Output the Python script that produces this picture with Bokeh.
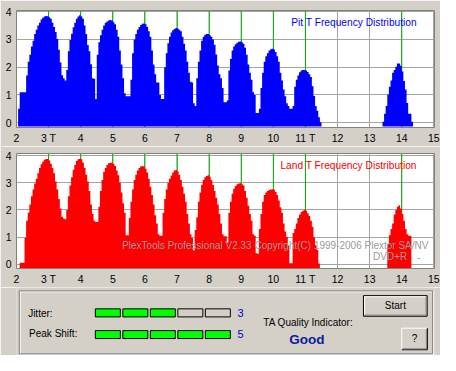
import numpy as np
from bokeh.plotting import figure
from bokeh.models import Range1d, FixedTicker, Label, ColumnDataSource
from bokeh.layouts import column
from bokeh.embed import file_html
from bokeh.resources import INLINE

nan = float("nan")

# ---------------- data ----------------
bin_start = 2.0
bin_width = 0.05

pit_heights = [
    nan, 0.5, 1.1, 1.1, 1.1, 1.1, 1.7, 2.2, 2.45, 2.75,          # 2.00
    2.95, 3.2, 3.35, 3.5, 3.6, 3.72, 3.78, 3.83, 3.85, 3.84,       # 2.50
    3.8, 3.75, 3.6, 3.45, 3.27, 3.02, 2.63, 2.17, 1.71, 1.6,       # 3.00
    1.52, 1.9, 2.58, 2.98, 3.21, 3.44, 3.6, 3.75, 3.83, 3.87,      # 3.50
    3.83, 3.75, 3.5, 3.2, 2.8, 2.58, 2.11, 1.6, 1.58, 0.85,        # 4.00
    2.45, 2.9, 3.15, 3.35, 3.5, 3.6, 3.65, 3.68, 3.7, 3.68,        # 4.50
    3.62, 3.55, 3.35, 3.1, 2.6, 2.1, 1.6, 1.06, 0.95, 0.95,        # 5.00
    0.95, 1.55, 2.5, 3.0, 3.2, 3.35, 3.45, 3.52, 3.57, 3.58,       # 5.50
    3.55, 3.45, 3.3, 3.1, 2.6, 2.1, 1.75, 1.45, 1.45, 1.0,         # 6.00
    0.85, 0.85, 2.0, 2.5, 2.86, 3.1, 3.25, 3.33, 3.38, 3.41,       # 6.50
    3.4, 3.35, 3.3, 3.1, 2.85, 2.6, 2.2, 1.8, 1.48, 1.45,          # 7.00
    0.7, 0.6, 1.6, 2.2, 2.6, 2.95, 3.1, 3.17, 3.2, 3.2,            # 7.50
    3.15, 3.1, 3.0, 2.81, 2.46, 2.06, 1.75, 1.6, 1.25, 0.74,       # 8.00
    0.74, 0.8, 1.88, 2.3, 2.6, 2.75, 2.83, 2.88, 2.92, 2.93,       # 8.50
    2.9, 2.85, 2.7, 2.45, 2.1, 1.8, 1.55, 1.1, 1.0, 0.35,          # 9.00
    0.35, 0.5, 1.25, 1.8, 2.2, 2.4, 2.5, 2.6, 2.65, 2.67,          # 9.50
    2.64, 2.55, 2.4, 2.2, 1.8, 1.52, 1.2, 0.95, 0.7, 0.6,          # 10.00
    0.5, 0.5, 0.6, 1.3, 1.55, 1.7, 1.82, 1.88, 1.9, 1.9,           # 10.50
    1.88, 1.83, 1.75, 1.65, 1.31, 0.96, 0.6, 0.43, 0.2, 0.02,      # 11.00
    nan, nan, nan, nan, nan, nan, nan, nan, nan, nan,              # 11.50
    nan, nan, nan, nan, nan, nan, nan, nan, nan, nan,              # 12.00
    nan, nan, nan, nan, nan, nan, nan, nan, nan, nan,              # 12.50
    nan, nan, nan, nan, nan, nan, nan, nan, 0.03, 0.32,            # 13.00
    0.6, 1.02, 1.3, 1.52, 1.8, 1.9, 2.02, 2.13, 2.13, 2.05,        # 13.50
    1.85, 1.5, 1.2, 0.71, 0.32, 0.32, 0.03, nan, nan, nan,         # 14.00
]

land_heights = [
    nan, nan, 0.05, 0.05, 0.05, 0.97, 1.6, 1.9, 2.2, 2.5,          # 2.00
    2.75, 2.97, 3.15, 3.35, 3.55, 3.68, 3.78, 3.85, 3.88, 3.88,    # 2.50
    3.82, 3.7, 3.55, 3.35, 3.05, 2.75, 2.4, 2.05, 1.75, 1.68,      # 3.00
    1.66, 2.0, 2.5, 2.9, 3.2, 3.48, 3.66, 3.8, 3.87, 3.89,         # 3.50
    3.87, 3.75, 3.55, 3.3, 3.05, 2.7, 2.2, 1.85, 1.6, 1.55,        # 4.00
    1.55, 2.12, 2.7, 3.1, 3.4, 3.55, 3.66, 3.72, 3.74, 3.74,       # 4.50
    3.7, 3.62, 3.45, 3.28, 3.0, 2.64, 2.25, 1.9, 1.07, 1.07,       # 5.00
    1.7, 2.3, 2.75, 3.1, 3.3, 3.45, 3.55, 3.6, 3.62, 3.6,          # 5.50
    3.52, 3.38, 3.15, 2.85, 2.55, 2.2, 1.8, 1.5, 1.1, 1.05,        # 6.00
    1.05, 1.9, 2.4, 2.75, 3.0, 3.15, 3.27, 3.38, 3.45, 3.47,       # 6.50
    3.42, 3.3, 3.1, 2.85, 2.6, 2.3, 1.85, 1.5, 1.1, 0.96,          # 7.00
    0.5, 1.26, 1.73, 2.3, 2.64, 2.93, 3.1, 3.2, 3.25, 3.28,        # 7.50
    3.22, 3.1, 2.92, 2.7, 2.45, 2.2, 1.85, 1.5, 1.1, 1.03,         # 8.00
    1.03, 0.8, 1.9, 2.3, 2.6, 2.78, 2.88, 2.95, 2.97, 2.98,        # 8.50
    2.95, 2.9, 2.7, 2.45, 2.15, 1.85, 1.6, 1.1, 1.05, 0.4,         # 9.00
    0.38, 1.3, 1.85, 2.3, 2.55, 2.64, 2.7, 2.73, 2.75, 2.76,       # 9.50
    2.74, 2.66, 2.55, 2.35, 2.1, 1.9, 1.5, 1.2, 1.0, 0.69,         # 10.00
    0.03, 0.03, 1.15, 1.3, 1.5, 1.7, 1.83, 1.92, 1.97, 2.0,        # 10.50
    1.97, 1.88, 1.78, 1.6, 1.38, 0.98, 0.7, 0.52, 0.02, nan,       # 11.00
    nan, nan, nan, nan, nan, nan, nan, nan, nan, nan,              # 11.50
    nan, nan, nan, nan, nan, nan, nan, nan, nan, nan,              # 12.00
    nan, nan, nan, nan, nan, nan, nan, nan, nan, nan,              # 12.50
    nan, nan, nan, nan, nan, nan, nan, nan, nan, nan,              # 13.00
    nan, 0.73, 1.07, 1.3, 1.5, 1.83, 2.0, 2.12, 2.17, 2.05,        # 13.50
    1.85, 1.6, 1.3, 1.1, 1.05, 1.05, nan, nan, nan, nan,           # 14.00
]

peak_marks = [3, 4, 5, 6, 7, 8, 9, 10, 11, 14]
x_ticks = list(range(2, 16))
x_tick_names = {3: "3 T", 11: "11 T"}
y_ticks = [0, 1, 2, 3, 4]

jitter_level = 3
peak_shift_level = 5
level_slots = 5
quality_text = "Good"

pit_caption = "Pit T Frequency Distribution"
land_caption = "Land T Frequency Distribution"
credit_line = "PlexTools Professional V2.33 Copyright(C) 1999-2006 Plextor SA/NV"
media_line = "DVD+R"

# ---------------- style ----------------
BG = "#D4D0C8"
FONT = "Liberation Sans"
GREEN_LINE = "#00B000"
GRID = "#A4A4A4"
WATERMARK = "#9A9A9A"
W = 440
BAR_BASE = -0.14


def make_hist(heights, color, caption, cap_x, cap_y, fig_h, b_top, b_bottom, y_lo, y_hi):
    p = figure(width=W, height=fig_h, x_range=Range1d(2, 15.02), y_range=Range1d(y_lo, y_hi),
               output_backend="svg", toolbar_location=None,
               min_border_left=16, min_border_right=6, min_border_top=b_top, min_border_bottom=b_bottom)
    p.border_fill_color = BG
    p.background_fill_color = "white"
    p.outline_line_color = "#808080"
    p.xaxis.ticker = FixedTicker(ticks=x_ticks)
    p.xaxis.major_label_overrides = {k: v for k, v in x_tick_names.items()}
    p.yaxis.ticker = FixedTicker(ticks=y_ticks)
    for ax in (p.xaxis[0], p.yaxis[0]):
        ax.axis_line_color = None
        ax.major_tick_line_color = None
        ax.minor_tick_line_color = None
        ax.major_tick_out = 0
        ax.major_tick_in = 0
        ax.major_label_text_font = FONT
        ax.major_label_text_font_size = "10.5px"
        ax.major_label_text_color = "black"
    p.xaxis.major_label_standoff = 4
    p.yaxis.major_label_standoff = 5
    p.xgrid.ticker = FixedTicker(ticks=x_ticks)
    p.ygrid.ticker = FixedTicker(ticks=y_ticks)
    p.grid.grid_line_color = GRID
    p.grid.grid_line_width = 1

    n = len(peak_marks)
    p.segment(x0=peak_marks, y0=[y_lo] * n, x1=peak_marks, y1=[y_hi] * n,
              line_color=GREEN_LINE, line_width=1)

    # histogram bins drawn as filled step areas, one per contiguous run of bins
    h = np.array(heights, dtype=float)
    left = bin_start + bin_width * np.arange(len(h))
    valid = ~np.isnan(h)
    i = 0
    while i < len(h):
        if not valid[i]:
            i += 1
            continue
        j = i
        while j < len(h) and valid[j]:
            j += 1
        xs = list(left[i:j]) + [left[j - 1] + bin_width]
        ys = list(h[i:j]) + [h[j - 1]]
        src = ColumnDataSource(dict(x=xs, y1=[BAR_BASE] * len(xs), y2=ys))
        p.varea_step(x="x", y1="y1", y2="y2", step_mode="after", source=src, fill_color=color)
        i = j

    p.add_layout(Label(x=cap_x, y=cap_y, text=caption, text_color=color, text_font=FONT,
                       text_font_size="10.2px", text_baseline="middle", text_align="left"))
    return p


top = make_hist(pit_heights, "#0000FF", pit_caption, 10.56, 3.62, 146, 10, 19, -0.173, 4.045)
bottom = make_hist(land_heights, "#FF0000", land_caption, 10.22, 3.65, 141, 7, 17, -0.16, 4.08)

bottom.add_layout(Label(x=14.83, y=0.67, text=credit_line, text_color=WATERMARK, text_font=FONT,
                        text_font_size="10px", text_baseline="middle", text_align="right"))
bottom.add_layout(Label(x=14.17, y=0.27, text=media_line, text_color=WATERMARK, text_font=FONT,
                        text_font_size="10px", text_baseline="middle", text_align="right"))
bottom.add_layout(Label(x=14.53, y=0.27, text="-", text_color=WATERMARK, text_font=FONT,
                        text_font_size="10px", text_baseline="middle", text_align="center"))

# ---------------- status panel ----------------
panel = figure(width=W, height=68, x_range=Range1d(0, 456), y_range=Range1d(371, 300),
               output_backend="svg", toolbar_location=None,
               x_axis_location=None, y_axis_location=None,
               min_border_left=0, min_border_right=0, min_border_top=0, min_border_bottom=0)
panel.border_fill_color = BG
panel.background_fill_color = BG
panel.outline_line_color = None
panel.grid.visible = False

# etched group frame
panel.quad(left=[4], right=[455], top=[304.5], bottom=[370.3], fill_color=None, line_color="white")
panel.quad(left=[3], right=[454], top=[303.5], bottom=[369.3], fill_color=None, line_color="#808080")


def txt(x, y, s, color="black", size="10px", align="left", style="normal"):
    panel.add_layout(Label(x=x, y=y, text=s, text_color=color, text_font=FONT, text_font_size=size,
                           text_baseline="middle", text_align=align, text_font_style=style))


txt(12.7, 326.7, "Jitter:")
txt(13.7, 348.3, "Peak Shift:")

slot_left = [86, 116, 146, 176, 206]
slot_w = 27.3
for level, (y0, y1), lab_y in ((jitter_level, (322.3, 330.7), 326.7),
                               (peak_shift_level, (345.0, 353.3), 348.3)):
    fills = ["#00FF00" if k < level else BG for k in range(level_slots)]
    panel.quad(left=slot_left, right=[l + slot_w for l in slot_left], top=[y0] * level_slots,
               bottom=[y1] * level_slots, fill_color=fills, line_color="black", line_width=1)
    txt(244.5, lab_y, str(level), color="#0000CC", size="11px", align="center")

txt(269.3, 336.7, "TA Quality Indicator:")
txt(316.7, 354.6, quality_text, color="#0A1A9E", size="13.5px", align="center", style="bold")

# Start button
panel.quad(left=[378.5], right=[448], top=[308.5], bottom=[330], fill_color=BG, line_color="black")
panel.segment(x0=[379.7, 379.7], y0=[309.7, 309.7], x1=[446.6, 379.7], y1=[309.7, 328.6],
              line_color="white", line_width=1)
panel.segment(x0=[379.7, 446.8], y0=[328.8, 309.7], x1=[446.8, 446.8], y1=[328.8, 328.8],
              line_color="#808080", line_width=1)
txt(413.3, 319.3, "Start", align="center")

# ? button
panel.segment(x0=[420.3, 420.3], y0=[342.5, 342.5], x1=[448, 420.3], y1=[342.5, 364.8],
              line_color="white", line_width=1)
panel.segment(x0=[420.3, 448.2], y0=[365, 342.5], x1=[448.2, 448.2], y1=[365, 365],
              line_color="black", line_width=1)
panel.segment(x0=[421.3, 447.1], y0=[364, 343.5], x1=[447.1, 447.1], y1=[364, 364],
              line_color="#808080", line_width=1)
txt(434.2, 353.6, "?", align="center")

layout = column(top, bottom, panel, spacing=0)
open("out.html", "w").write(file_html(layout, INLINE))
